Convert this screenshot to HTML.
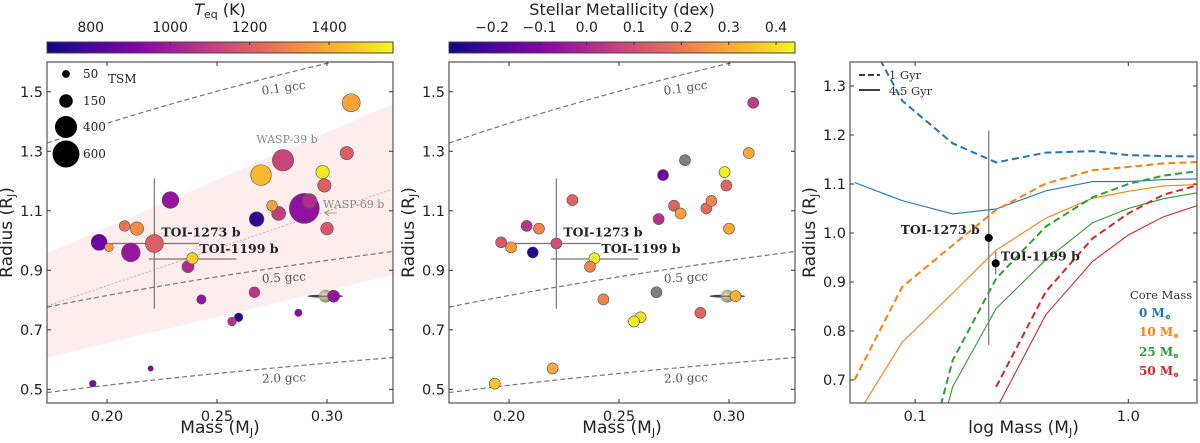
<!DOCTYPE html>
<html><head><meta charset="utf-8"><style>
html,body{margin:0;padding:0;background:#fff;width:1200px;height:443px;overflow:hidden;}
svg{display:block;font-family:"DejaVu Sans","Liberation Sans",sans-serif;overflow:hidden;}
.serif{font-family:"DejaVu Serif","Liberation Serif",serif;}
</style></head><body>
<svg id="chart" width="1200" height="443" viewBox="0 0 1200 443" xmlns="http://www.w3.org/2000/svg">
<defs>
<linearGradient id="plasma" x1="0" x2="1" y1="0" y2="0">
<stop offset="0" stop-color="#0d0887"/><stop offset="0.13" stop-color="#4b03a1"/><stop offset="0.25" stop-color="#7d03a8"/><stop offset="0.38" stop-color="#a82296"/><stop offset="0.5" stop-color="#cb4679"/><stop offset="0.63" stop-color="#e56b5d"/><stop offset="0.75" stop-color="#f89441"/><stop offset="0.88" stop-color="#fdc328"/><stop offset="1" stop-color="#f0f921"/>
</linearGradient>
<radialGradient id="sat" cx="0.4" cy="0.4" r="0.7"><stop offset="0" stop-color="#e8dcb8"/><stop offset="1" stop-color="#8c7a55"/></radialGradient>
</defs>
<g id="p1"></g>
<g id="p2"></g>
<g id="p3"></g>
</svg>
<script>
// ---- data ----
const mass   = [0.311,0.309,0.280,0.270,0.298,0.2988,0.2897,0.292,0.275,0.278,0.268,0.300,0.2288,0.208,0.2136,0.1964,0.2009,0.2108,0.2215,0.2388,0.2368,0.2429,0.267,0.2598,0.2568,0.287,0.303,0.2198,0.1935];
const radius = [1.463,1.294,1.27,1.22,1.23,1.185,1.108,1.133,1.117,1.091,1.072,1.04,1.136,1.049,1.04,0.994,0.977,0.96,0.99,0.94,0.912,0.802,0.826,0.742,0.728,0.757,0.813,0.57,0.519];
const teq    = [1380,1200,1120,1430,1530,1200,960,1050,1370,1100,760,1180,970,1260,1320,870,1360,980,1200,1480,1050,970,1080,740,1060,940,970,920,900];
const tsm    = [268,147,376,353,147,147,744,178,94,162,178,132,230,94,147,212,62,288,268,106,119,72,94,62,62,44,119,24,37];
const metal  = [0.05,0.3,null,-0.13,0.42,0.15,0.17,0.22,0.15,0.28,0.03,0.3,0.15,0.03,0.22,0.12,0.27,-0.25,0.1,0.42,0.22,0.22,null,0.4,0.42,0.15,0.32,0.3,0.35];
const toiNames = ["TOI-1273 b","TOI-1199 b"];
const toiMass = [0.2215,0.2388];
const toiRad  = [0.99,0.938];
const toiMassErr = [[0.2015,0.2417],[0.219,0.2588]];
const toiRadErr  = [[0.771,1.209],[0.915,0.962]];
const densities = [0.1,0.5,2.0];
const tsmLegend = [50,150,400,600];
const teqTicks = [800,1000,1200,1400];
const metTicks = [-0.2,-0.1,0.0,0.1,0.2,0.3,0.4];
const massTicks = [0.20,0.25,0.30];
const radTicks = [0.5,0.7,0.9,1.1,1.3,1.5];
const bandUpper = [0.957,1.459];
const bandLower = [0.607,0.885];
const bandMid = [0.78,1.173];
// evolution models
const gridMass = [0.052,0.087,0.15,0.24,0.41,0.68,1.0,1.46,2.44];
const r0_1  = [1.45,1.27,1.183,1.144,1.164,1.167,1.159,1.157,1.156];
const r0_45 = [1.103,1.066,1.039,1.049,1.086,1.105,1.105,1.109,1.111];
const r10_1 = [0.70,0.89,0.975,1.047,1.101,1.128,1.135,1.142,1.146];
const r10_45= [0.62,0.777,0.877,0.965,1.03,1.071,1.085,1.096,1.10];
const r25_1 = [null,0.35,0.74,0.907,1.013,1.073,1.10,1.117,1.13];
const r25_45= [null,0.30,0.686,0.846,0.945,1.021,1.05,1.07,1.087];
const r50_1 = [null,null,null,0.686,0.88,0.989,1.04,1.078,1.105];
const r50_45= [null,null,null,0.64,0.833,0.942,0.996,1.033,1.065];
const logTicks = [0.1,1.0];
const logRadTicks = [0.7,0.8,0.9,1.0,1.1,1.2,1.3];

const NS="http://www.w3.org/2000/svg";
function mk(parent,tag,attrs,text){const e=document.createElementNS(NS,tag);for(const k in attrs)e.setAttribute(k,attrs[k]);if(text!==undefined)e.textContent=text;parent.appendChild(e);return e;}
const stops=[[0,13,8,135],[0.13,75,3,161],[0.25,125,3,168],[0.38,168,34,150],[0.5,203,70,121],[0.63,229,107,93],[0.75,248,148,65],[0.88,253,195,40],[1,240,249,33]];
function plasma(t){t=Math.max(0,Math.min(1,t));for(let i=1;i<stops.length;i++){if(t<=stops[i][0]){const a=stops[i-1],b=stops[i];const f=(t-a[0])/(b[0]-a[0]);return `rgb(${Math.round(a[1]+f*(b[1]-a[1]))},${Math.round(a[2]+f*(b[2]-a[2]))},${Math.round(a[3]+f*(b[3]-a[3]))})`;}}return "rgb(240,249,33)";}
function rho(m,d){return 1.03*0.906*Math.cbrt((m/0.3)*(0.5/d));}

function scatterPanel(g,X0,X1,cbMin,cbMax,cbTicks,cbTitle,colorVals,sized,idx){
  const Y0=62,Y1=403, xmin=0.1727,xmax=0.33,ymin=0.454,ymax=1.6;
  const sx=m=>X0+(m-xmin)/(xmax-xmin)*(X1-X0);
  const sy=r=>Y1-(r-ymin)/(ymax-ymin)*(Y1-Y0);
  const clipId='clip'+idx;
  const cp=mk(g,'clipPath',{id:clipId});mk(cp,'rect',{x:X0,y:Y0,width:X1-X0,height:Y1-Y0});
  const cb=mk(g,'g',{});
  
  mk(cb,'rect',{x:X0,y:42,width:X1-X0,height:11,fill:'url(#plasma)',stroke:'#444','stroke-width':1});
  const cx=v=>X0+(v-cbMin)/(cbMax-cbMin)*(X1-X0);
  cbTicks.forEach(t=>{mk(cb,'line',{x1:cx(t),x2:cx(t),y1:42,y2:45,stroke:'#333'});
    const lbl=mk(cb,'text',{x:cx(t),y:32,'font-size':14,'text-anchor':'middle',fill:'#222'},(t<0?'\u2212':'')+(Math.abs(t)>=10?Math.abs(t):Math.abs(t).toFixed(1)));
    });
  const ct=mk(cb,'text',{x:(X0+X1)/2,y:15,'font-size':16,'text-anchor':'middle',fill:'#222'});
  
  ct.innerHTML=cbTitle;
  const pl=mk(g,'g',{'clip-path':`url(#${clipId})`});
  if(sized){
    const band=mk(pl,'polygon',{points:`${sx(xmin)},${sy(bandUpper[0])} ${sx(xmax)},${sy(bandUpper[1])} ${sx(xmax)},${sy(bandLower[1])} ${sx(xmin)},${sy(bandLower[0])}`,fill:'#fde8e8',opacity:0.8});
    
    const mid=mk(pl,'line',{x1:sx(xmin),y1:sy(bandMid[0]),x2:sx(xmax),y2:sy(bandMid[1]),stroke:'#f08080','stroke-width':0.8,'stroke-dasharray':'2,2'});
    
  }
  densities.forEach(d=>{let pts=[];for(let i=0;i<=40;i++){const m=xmin+(xmax-xmin)*i/40;const r=Math.min(rho(m,d),ymax);pts.push(sx(m)+','+sy(r));}
    const l=mk(pl,'polyline',{points:pts.join(' '),fill:'none',stroke:'#777','stroke-width':1.2,'stroke-dasharray':'5,3'});
    
    const mx=0.2805, yy=sy(rho(mx,d))+(d===0.1?18:15);
    const ang=d===0.1?-8:(d===0.5?-3:-2);
    const t=mk(pl,'text',{x:sx(mx),y:yy,'font-size':12,'text-anchor':'middle',fill:'#555',class:'serif',transform:`rotate(${ang} ${sx(mx)} ${yy})`},d.toFixed(1)+' gcc');
    });
  if(sized){
    const lg=mk(pl,'rect',{x:X0+1,y:Y0+1,width:56,height:72,fill:'#fff'});
    
  }
  for(let k=0;k<2;k++){
    const e1=mk(pl,'line',{x1:sx(toiMassErr[k][0]),x2:sx(toiMassErr[k][1]),y1:sy(toiRad[k]),y2:sy(toiRad[k]),stroke:'#777','stroke-width':1.2});
    
    const e2=mk(pl,'line',{x1:sx(toiMass[k]),x2:sx(toiMass[k]),y1:sy(toiRadErr[k][0]),y2:sy(toiRadErr[k][1]),stroke:'#777','stroke-width':1.2});
    
  }
  const sX=sx(0.2992),sY=sy(0.813);
  const sat=mk(pl,'g',{});
  mk(sat,'ellipse',{cx:sX,cy:sY,rx:18,ry:1.6,fill:'#444'});
  mk(sat,'circle',{cx:sX,cy:sY,r:6.5,fill:'url(#sat)'});
  mk(sat,'line',{x1:sX-6,x2:sX+6,y1:sY,y2:sY,stroke:'#555','stroke-width':1});
  let order=mass.map((_,i)=>i); if(sized) order.sort((a,b)=>tsm[b]-tsm[a]);
  order.forEach(i=>{
    const v=colorVals[i];
    const fill=v===null?'#808080':plasma((v-cbMin)/(cbMax-cbMin));
    const r=sized?0.55*Math.sqrt(tsm[i]):5.5;
    const c=mk(pl,'circle',{cx:sx(mass[i]),cy:sy(radius[i]),r:r,fill:fill,stroke:'#555','stroke-width':0.6});
    
  });
  const tl1=mk(g,'text',{x:sx(toiMass[0])+7,y:sy(toiRad[0])-7,'font-size':12.5,'font-weight':'bold',class:'serif',fill:'#222'},toiNames[0]);
  
  const tl2=mk(g,'text',{x:sx(toiMass[1])+7,y:sy(toiRad[1])-6,'font-size':12.5,'font-weight':'bold',class:'serif',fill:'#222'},toiNames[1]);
  
  if(sized){
    const w39=mk(g,'text',{x:287,y:143,'font-size':11,'text-anchor':'middle',class:'serif',fill:'#888'},'WASP-39 b');
    
    const w69=mk(g,'text',{x:323,y:208,'font-size':11,class:'serif',fill:'#888'},'WASP-69 b');
    
    const ar=mk(g,'path',{d:'M337,213 L325,213 M329,210 L325,213 L329,216',stroke:'#888',fill:'none','stroke-width':0.8});
    
    const ly=[74,101,127,154];
    tsmLegend.forEach((t,k)=>{const c=mk(g,'circle',{cx:66,cy:ly[k],r:0.55*Math.sqrt(t),fill:'#000'});
      
      const tx=mk(g,'text',{x:83,y:ly[k]+4,'font-size':12,class:'serif',fill:'#222'},String(t));
      });
    const ts=mk(g,'text',{x:108,y:83,'font-size':12,class:'serif',fill:'#222'},'TSM');
    
  }
  axes(g,X0,X1,Y0,Y1,massTicks.map(m=>[sx(m),m.toFixed(2)]),radTicks.map(r=>[sy(r),r.toFixed(1)]),'Mass (M<tspan font-size="11" dy="3">J</tspan><tspan dy="-3">)</tspan>');
}
function axes(g,X0,X1,Y0,Y1,xt,yt,xlabel){
  const f=mk(g,'rect',{x:X0,y:Y0,width:X1-X0,height:Y1-Y0,fill:'none',stroke:'#555','stroke-width':1.2});
  
  xt.forEach(([x,l])=>{mk(g,'line',{x1:x,x2:x,y1:Y1,y2:Y1-4,stroke:'#333'});mk(g,'line',{x1:x,x2:x,y1:Y0,y2:Y0+4,stroke:'#333'});
    const t=mk(g,'text',{x:x,y:Y1+18,'font-size':14.5,'text-anchor':'middle',fill:'#222'},l);
    });
  yt.forEach(([y,l])=>{mk(g,'line',{x1:X0,x2:X0+4,y1:y,y2:y,stroke:'#333'});mk(g,'line',{x1:X1,x2:X1-4,y1:y,y2:y,stroke:'#333'});
    const t=mk(g,'text',{x:X0-4,y:y+5,'font-size':14.5,'text-anchor':'end',fill:'#222'},l);
    });
  const xl=mk(g,'text',{x:(X0+X1)/2,y:433,'font-size':17,'text-anchor':'middle',fill:'#222'});
  xl.innerHTML=xlabel;
  const yx=X0-35,yy=(Y0+Y1)/2;
  const yl=mk(g,'text',{x:yx,y:yy,'font-size':17,'text-anchor':'middle',fill:'#222',transform:`rotate(-90 ${yx} ${yy})`});
  yl.innerHTML='Radius (R<tspan font-size="11" dy="3">J</tspan><tspan dy="-3">)</tspan>';
  
}
scatterPanel(document.getElementById('p1'),47,393,690,1561,teqTicks,'<tspan font-style="italic">T</tspan><tspan font-size="11" dy="3">eq</tspan><tspan dy="-3"> (K)</tspan>',teq,true,1);
scatterPanel(document.getElementById('p2'),449,795,-0.291,0.44,metTicks,'Stellar Metallicity (dex)',metal,false,2);

(function(){
  const g=document.getElementById('p3');
  const X0=850,X1=1197,Y0=62,Y1=403,lmin=Math.log10(0.0495),lmax=Math.log10(2.1),ymin=0.653,ymax=1.349;
  const sx=m=>X0+(Math.log10(m)-lmin)/(lmax-lmin)*(X1-X0);
  const sy=r=>Y1-(r-ymin)/(ymax-ymin)*(Y1-Y0);
  const cp=mk(g,'clipPath',{id:'clip3'});mk(cp,'rect',{x:X0,y:Y0,width:X1-X0,height:Y1-Y0});
  const pl=mk(g,'g',{'clip-path':'url(#clip3)'});
  // clip a polyline (in screen space) to the axes vertical range
  function clipPts(p){const out=[];const lo=Y0-2,hi=Y1+2;
    for(let i=0;i<p.length;i++){const [x,y]=p[i];const inside=y>=lo&&y<=hi;
      if(i>0){const [px,py]=p[i-1];const pin=py>=lo&&py<=hi;
        if(inside!==pin){const lim=(inside?py:y)<lo?lo:hi;const f=(lim-py)/(y-py);out.push([px+f*(x-px),lim]);}}
      if(inside)out.push([x,y]);}
    return out;}
  const series=[[r0_1,'#1f77b4',true,'0'],[r0_45,'#1f77b4',false,'0'],[r10_1,'#ff7f0e',true,'10'],[r10_45,'#ff7f0e',false,'10'],[r25_1,'#2ca02c',true,'25'],[r25_45,'#2ca02c',false,'25'],[r50_1,'#d62728',true,'50'],[r50_45,'#d62728',false,'50']];
  series.forEach(([arr,col,dash,cm])=>{const raw=[];arr.forEach((r,i)=>{if(r!==null)raw.push([sx(gridMass[i]),sy(r)]);});
    const pts=clipPts(raw).map(p=>p[0]+','+p[1]);
    const l=mk(pl,'polyline',{points:pts.join(' '),fill:'none',stroke:col,'stroke-width':dash?2:1.1,'stroke-dasharray':dash?'7,4':'none'});
    });
  const yerr=[[0.771,1.209],[0.915,0.962]], xerr=[[0.2115,0.2315],[0.2288,0.2488]];
  for(let k=0;k<2;k++){
    mk(pl,'line',{x1:sx(xerr[k][0]),x2:sx(xerr[k][1]),y1:sy(toiRad[k]),y2:sy(toiRad[k]),stroke:'#777','stroke-width':1.2});
    mk(pl,'line',{x1:sx(toiMass[k]),x2:sx(toiMass[k]),y1:sy(yerr[k][0]),y2:sy(yerr[k][1]),stroke:'#777','stroke-width':1.2});
    const c=mk(pl,'circle',{cx:sx(toiMass[k]),cy:sy(toiRad[k]),r:4,fill:'#000'});
    
  }
  const a=mk(g,'text',{x:sx(toiMass[0])-9,y:sy(toiRad[0])-4,'font-size':12.5,'font-weight':'bold','text-anchor':'end',class:'serif',fill:'#222'},toiNames[0]);
  
  const b=mk(g,'text',{x:sx(toiMass[1])+5,y:sy(toiRad[1])-3,'font-size':12.5,'font-weight':'bold',class:'serif',fill:'#222'},toiNames[1]);
  
  mk(g,'line',{x1:859,x2:880,y1:75,y2:75,stroke:'#000','stroke-width':1.6,'stroke-dasharray':'6,3'});
  mk(g,'line',{x1:859,x2:880,y1:90,y2:90,stroke:'#000','stroke-width':1.6});
  const l1=mk(g,'text',{x:889,y:79,'font-size':11.5,class:'serif',fill:'#333'},'1 Gyr');
  const l2=mk(g,'text',{x:889,y:95,'font-size':11.5,class:'serif',fill:'#333'},'4.5 Gyr');
  const ch=mk(g,'text',{x:1130,y:299,'font-size':11.5,class:'serif',fill:'#333'},'Core Mass');
  [['0','#1f77b4',317],['10','#ff7f0e',336],['25','#2ca02c',356],['50','#d62728',375]].forEach(([n,c,y])=>{
    const t=mk(g,'text',{x:1139,y:y,'font-size':12,'font-weight':'bold',class:'serif',fill:c});
    t.innerHTML=n+' M<tspan font-size="7" dy="2">\u2295</tspan>';
    });
  axes(g,X0,X1,Y0,Y1,logTicks.map(m=>[sx(m),m.toFixed(1)]),logRadTicks.map(r=>[sy(r),r.toFixed(1)]),'log Mass (M<tspan font-size="11" dy="3">J</tspan><tspan dy="-3">)</tspan>');
})();
</script>
</body></html>
